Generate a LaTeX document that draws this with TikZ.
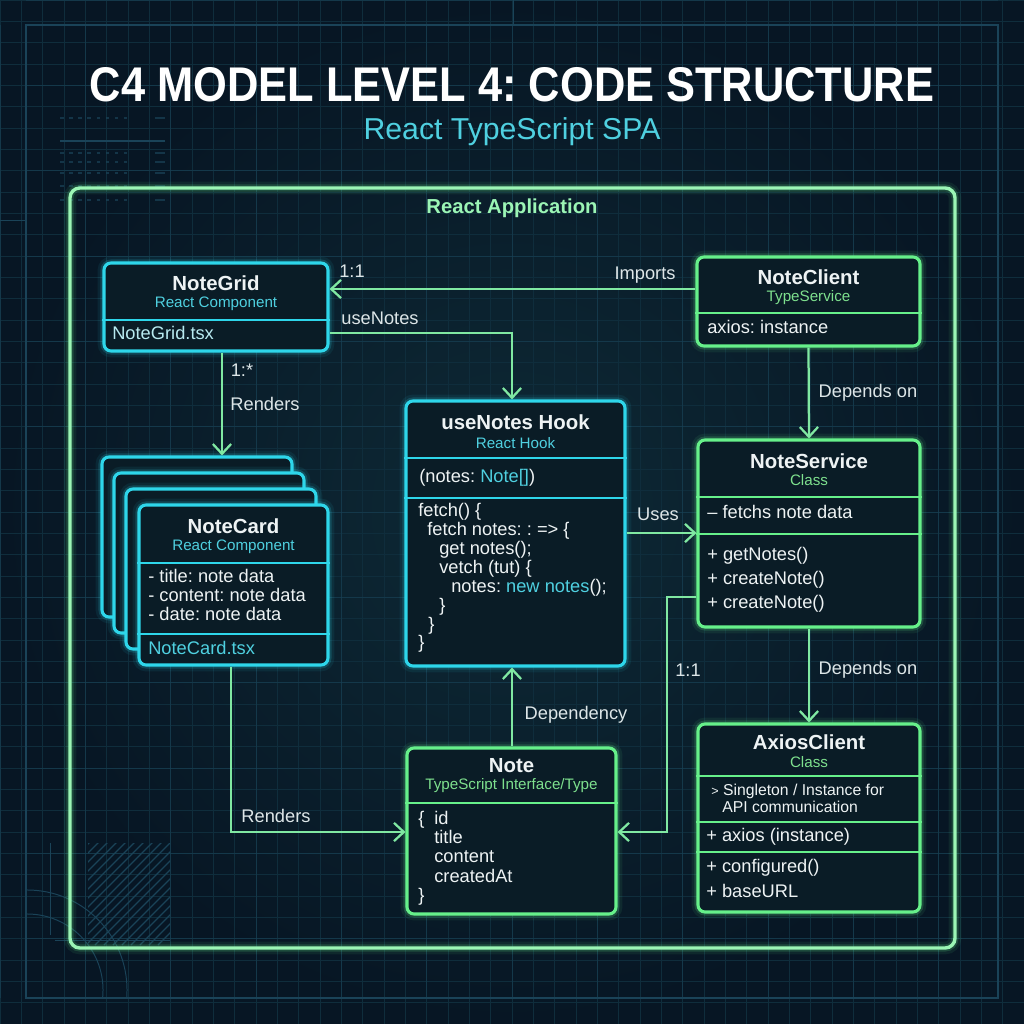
\documentclass[tikz,border=0pt]{standalone}
\usepackage{graphicx}
\usepackage{fontspec}
\setmainfont{Liberation Sans}
\usetikzlibrary{arrows.meta,calc}
\frenchspacing
\definecolor{bgc}{HTML}{071624}
\definecolor{bgc2}{HTML}{0E2A36}
\definecolor{gridc}{HTML}{0F2D3C}
\definecolor{gridm}{HTML}{1A4358}
\definecolor{cyanc}{HTML}{2ED6EA}
\definecolor{cyantxt}{HTML}{4FD0E0}
\definecolor{tsxc}{HTML}{B8EAF0}
\definecolor{greenc}{HTML}{66F08A}
\definecolor{greentxt}{HTML}{7EE08E}
\definecolor{contc}{HTML}{9BF5B5}
\definecolor{connc}{HTML}{80E8A2}
\definecolor{boxfill}{HTML}{0A1C26}
\definecolor{txtc}{HTML}{EEF3F4}
\definecolor{labc}{HTML}{DDE6E8}
\newdimen\pxu \pxu=0.025cm
\begin{document}
\begin{tikzpicture}[x=0.025cm,y=-0.025cm,
  cglow/.style={preaction={draw=cyanc,line width=9pt,opacity=0.08},preaction={draw=cyanc,line width=5pt,opacity=0.18}},
  gglow/.style={preaction={draw=greenc,line width=9pt,opacity=0.08},preaction={draw=greenc,line width=5pt,opacity=0.18}},
  cbox/.style={cglow,draw=cyanc,line width=2.2pt,fill=boxfill,rounded corners=5pt,inner sep=0pt},
  gbox/.style={gglow,draw=greenc,line width=2.2pt,fill=boxfill,rounded corners=5pt,inner sep=0pt},
  cdiv/.style={draw=cyanc,line width=1.8pt},
  gdiv/.style={draw=greenc,line width=1.8pt},
  ttl/.style={font=\bfseries\fontsize{14.5}{16}\selectfont,text=txtc,inner sep=0pt},
  csub/.style={font=\fontsize{10.8}{12}\selectfont,text=cyantxt,inner sep=0pt},
  gsub/.style={font=\fontsize{10.8}{12}\selectfont,text=greentxt,inner sep=0pt},
  body/.style={font=\fontsize{13}{14}\selectfont,text=txtc,inner sep=0pt,anchor=west,text height=9.5pt,text depth=2.5pt},
  small/.style={body,font=\fontsize{11.2}{12}\selectfont},
  conn/.style={draw=connc,line width=1.6pt},
  arr/.style={conn,-{Straight Barb[length=7pt,width=13pt]}},
  lab/.style={font=\fontsize{13}{14}\selectfont,text=labc,inner sep=0pt}
]
% background
\useasboundingbox (0,0) rectangle (1024,1024);
\shade[inner color=bgc2,outer color=bgc] (0,0) rectangle (1024,1024);
\foreach \i in {0,...,48} {
  \draw[gridc,line width=0.35pt] (\i*21.333,0) -- (\i*21.333,1024);
  \draw[gridc,line width=0.35pt] (0,\i*21.333) -- (1024,\i*21.333);
}
\foreach \i in {0,...,12} {
  \draw[gridm,line width=0.5pt,opacity=0.5] (\i*85.333,25) -- (\i*85.333,998);
  \draw[gridm,line width=0.5pt,opacity=0.5] (26,\i*85.333) -- (998,\i*85.333);
}
\draw[gridm,line width=0.9pt] (26,25) rectangle (998,998);
\draw[gridm,line width=0.6pt] (0,220) -- (26,220);
\draw[gridm,line width=0.6pt] (513,0) -- (513,25);
% top-left ticks
\foreach \yy in {118,153,162,173,186,200}
  \draw[gridm,line width=1.5pt,opacity=0.7,dash pattern=on 2.5pt off 4pt] (60,\yy) -- (130,\yy);
\foreach \yy in {118,153,162,173,186,200}
  \draw[gridm,line width=1.5pt,opacity=0.7] (155,\yy) -- (165,\yy);
\draw[gridm,line width=0.8pt] (60,141) -- (165,141);
% bottom-left hatch and arcs
\begin{scope}
  \clip (88,843) rectangle (170,945);
  \foreach \k in {0,...,20}
    \draw[gridm,line width=0.9pt] (88+\k*9-110,945) -- ++(110,-110);
\end{scope}
\begin{scope}
  \clip (26,850) rectangle (200,998);
  \draw[gridm,line width=0.7pt] (27,990) circle (2.5cm);
  \draw[gridm,line width=0.7pt] (27,990) circle (1.9cm);
\end{scope}
\draw[gridm,line width=0.7pt] (55,940) -- (170,940);
\draw[gridm,line width=0.7pt] (50,843) -- (50,935);

% title
\node[text=white,inner sep=0pt] (title) at (512,85)
  {\resizebox{21.1cm}{0.85cm}{\bfseries C4 MODEL LEVEL 4: CODE STRUCTURE}};
\node[text=cyantxt,inner sep=0pt,font=\fontsize{21.5}{24}\selectfont] (subtitle) at (512,132) {React TypeScript SPA};

% container
\node[gglow,draw=contc,line width=2.4pt,rounded corners=7pt,inner sep=0pt,
  minimum width=885\pxu,minimum height=760\pxu] (app) at (512.5,568) {};
\node[font=\bfseries\fontsize{14.4}{16}\selectfont,text=contc,inner sep=0pt] (applab) at (512,208) {React Application};

% NoteGrid
\node[cbox,minimum width=224\pxu,minimum height=88\pxu] (ng) at (216,307) {};
\node[ttl] (ngt) at (216,283) {NoteGrid};
\node[csub] (ngs) at (216,304) {React Component};
\draw[cdiv] (ng.west |- 0,320) -- (ng.east |- 0,320);
\node[body,text=tsxc] (ngf) at (112,335) {NoteGrid.tsx};

% NoteClient
\node[gbox,minimum width=223\pxu,minimum height=89\pxu] (ncl) at (808.5,301.5) {};
\node[ttl] (nclt) at (808.5,277) {NoteClient};
\node[gsub] (ncls) at (808.5,298) {TypeService};
\draw[gdiv] (ncl.west |- 0,313) -- (ncl.east |- 0,313);
\node[body] (ncla) at (707,329) {axios: instance};

% useNotes Hook
\node[cbox,minimum width=219\pxu,minimum height=265\pxu] (un) at (515.5,533.5) {};
\node[ttl] (unt) at (515.5,422) {useNotes Hook};
\node[csub] (uns) at (515.5,443) {React Hook};
\draw[cdiv] (un.west |- 0,458) -- (un.east |- 0,458);
\draw[cdiv] (un.west |- 0,498) -- (un.east |- 0,498);
\node[body] (una) at (419,478) {(notes: \textcolor{cyantxt}{Note[]})};
\node[body] (unc1) at (418,512) {fetch() \{};
\node[body] (unc2) at (427,531) {fetch notes: : => \{};
\node[body] (unc3) at (439,550) {get notes();};
\node[body] (unc4) at (439,569) {vetch (tut) \{};
\node[body] (unc5) at (451,588) {notes: \textcolor{cyantxt}{new notes}();};
\node[body] (unc6) at (439,607) {\}};
\node[body] (unc7) at (428,626) {\}};
\node[body] (unc8) at (418,644) {\}};

% NoteService
\node[gbox,minimum width=222\pxu,minimum height=187\pxu] (ns) at (809,533.5) {};
\node[ttl] (nst) at (809,461) {NoteService};
\node[gsub] (nss) at (809,480) {Class};
\draw[gdiv] (ns.west |- 0,497) -- (ns.east |- 0,497);
\draw[gdiv] (ns.west |- 0,534) -- (ns.east |- 0,534);
\node[body] (nsa) at (707,514) {\textendash{} fetchs note data};
\node[body] (nsm1) at (707,556) {+ getNotes()};
\node[body] (nsm2) at (707,580) {+ createNote()};
\node[body] (nsm3) at (707,604) {+ createNote()};

% NoteCard stack
\node[cbox,minimum width=190\pxu,minimum height=160\pxu] (card1) at (197,537) {};
\node[cbox,minimum width=190\pxu,minimum height=160\pxu] (card2) at (209,553) {};
\node[cbox,minimum width=190\pxu,minimum height=160\pxu] (card3) at (221,569) {};
\node[cbox,minimum width=189\pxu,minimum height=160\pxu] (ncard) at (233.5,585) {};
\node[ttl] (ncardt) at (233.5,526) {NoteCard};
\node[csub] (ncards) at (233.5,547) {React Component};
\draw[cdiv] (ncard.west |- 0,563) -- (ncard.east |- 0,563);
\draw[cdiv] (ncard.west |- 0,634) -- (ncard.east |- 0,634);
\node[body] (nca1) at (148,578) {- title: note data};
\node[body] (nca2) at (148,597) {- content: note data};
\node[body] (nca3) at (148,616) {- date: note data};
\node[body,text=cyantxt] (ncf) at (148,650) {NoteCard.tsx};

% Note
\node[gbox,minimum width=209\pxu,minimum height=166\pxu] (nt) at (511.5,831) {};
\node[ttl] (ntt) at (511.5,766) {Note};
\node[gsub] (nts) at (511.5,786) {TypeScript Interface/Type};
\draw[gdiv] (nt.west |- 0,803) -- (nt.east |- 0,803);
\node[body] (ntb0) at (418,820) {\{};
\node[body] (ntb1) at (434,820) {id};
\node[body] (ntb2) at (434,839) {title};
\node[body] (ntb3) at (434,858) {content};
\node[body] (ntb4) at (434,878) {createdAt};
\node[body] (ntb5) at (418,897) {\}};

% AxiosClient
\node[gbox,minimum width=222\pxu,minimum height=188\pxu] (ax) at (809,818) {};
\node[ttl] (axt) at (809,742) {AxiosClient};
\node[gsub] (axs) at (809,762) {Class};
\draw[gdiv] (ax.west |- 0,776) -- (ax.east |- 0,776);
\draw[gdiv] (ax.west |- 0,822) -- (ax.east |- 0,822);
\draw[gdiv] (ax.west |- 0,852) -- (ax.east |- 0,852);
\node[small] (axd1) at (711,791) {{\fontsize{9}{10}\selectfont >} Singleton / Instance for};
\node[small] (axd2) at (722,808) {API communication};
\node[body] (axa) at (706,837) {+ axios (instance)};
\node[body] (axm1) at (706,868) {+ configured()};
\node[body] (axm2) at (706,893) {+ baseURL};

% connectors
\draw[arr] (ncl.west |- 0,289) -- (ng.east |- 0,289);
\node[lab] (l11a) at (352,271) {1:1};
\node[lab] (limp) at (645,275) {Imports};

\draw[arr] (ng.east |- 0,333) -| (512,0 |- un.north);
\node[lab] (luse) at (380,318) {useNotes};

\draw[arr] (222,0 |- ng.south) -- (222,0 |- card1.north);
\node[lab] (l1s) at (242,370) {1:*};
\node[lab] (lren1) at (265,404) {Renders};

\draw[arr] (ncl.south) -- (ns.north);
\node[lab] (ldep1) at (868,393) {Depends on};

\draw[arr] (un.east |- 0,533) -- (ns.west |- 0,533);
\node[lab] (luses) at (658,514) {Uses};

\draw[arr] (ns.south) -- (ax.north);
\node[lab] (ldep2) at (868,670) {Depends on};

\draw[arr] (512,0 |- nt.north) -- (512,0 |- un.south);
\node[lab] (ldepy) at (576,715) {Dependency};

\draw[arr] (231,0 |- ncard.south) |- (nt.west |- 0,832);
\node[lab] (lren2) at (276,816) {Renders};

\draw[arr] (ns.west |- 0,597) -| (667,715) |- (nt.east |- 0,832);
\node[lab] (l11b) at (688,670) {1:1};
\end{tikzpicture}
\end{document}
